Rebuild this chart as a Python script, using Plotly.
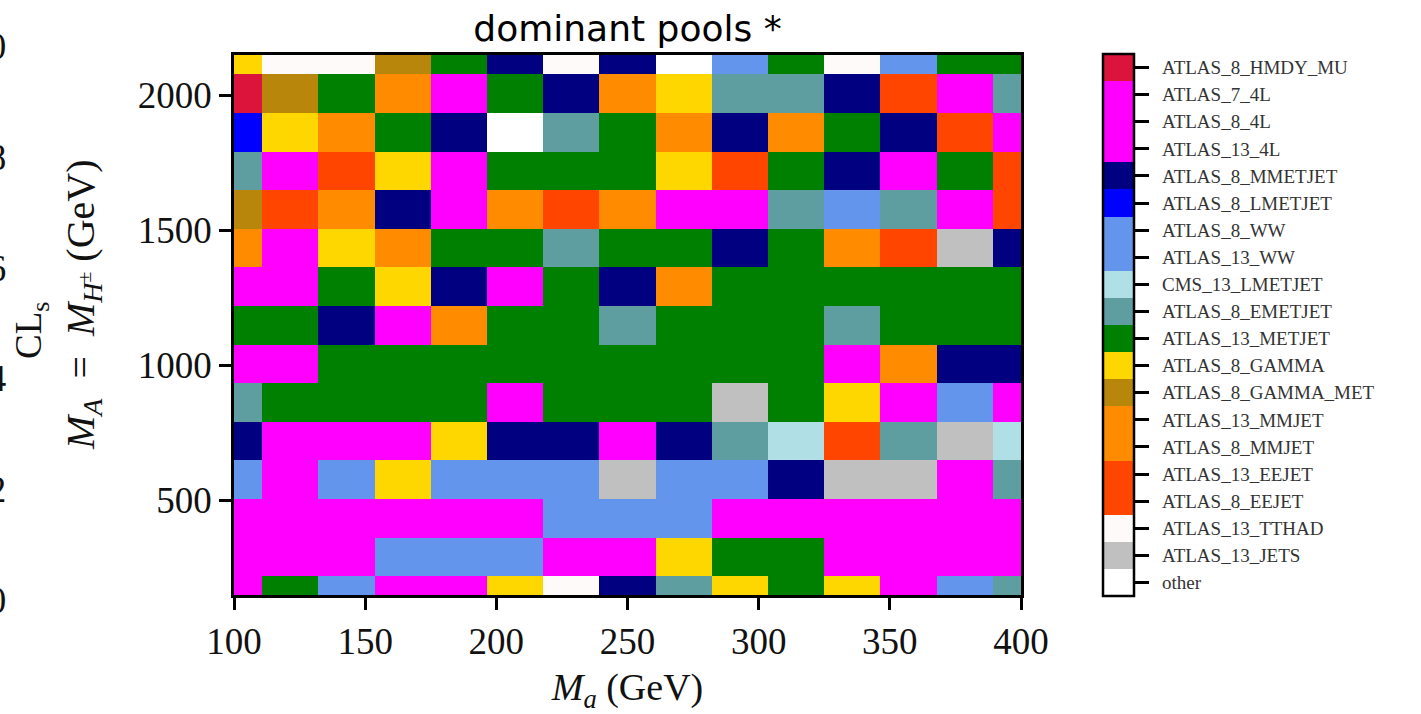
import plotly.graph_objects as go
import numpy as np

# Pool names in colour-bar order (top to bottom)
pools = ["ATLAS_8_HMDY_MU", "ATLAS_7_4L", "ATLAS_8_4L", "ATLAS_13_4L",
         "ATLAS_8_MMETJET", "ATLAS_8_LMETJET", "ATLAS_8_WW", "ATLAS_13_WW",
         "CMS_13_LMETJET", "ATLAS_8_EMETJET", "ATLAS_13_METJET", "ATLAS_8_GAMMA",
         "ATLAS_8_GAMMA_MET", "ATLAS_13_MMJET", "ATLAS_8_MMJET", "ATLAS_13_EEJET",
         "ATLAS_8_EEJET", "ATLAS_13_TTHAD", "ATLAS_13_JETS", "other"]
pool_colors = ["#DC143C", "#FF00FF", "#FF00FF", "#FF00FF",
               "#000080", "#0000FF", "#6495ED", "#6495ED",
               "#B0E0E6", "#5F9EA0", "#008000", "#FFD700",
               "#B8860B", "#FF8C00", "#FF8C00", "#FF4500",
               "#FF4500", "#FFFAFA", "#C0C0C0", "#FFFFFF"]

# grid coordinates
m_a = [100.0, 121.4, 142.9, 164.3, 185.7, 207.1, 228.6, 250.0,
       271.4, 292.9, 314.3, 335.7, 357.1, 378.6, 400.0]
m_A = [150.0, 292.9, 435.7, 578.6, 721.4, 864.3, 1007.1, 1150.0,
       1292.9, 1435.7, 1578.6, 1721.4, 1864.3, 2007.1, 2150.0]

# dominant pool per cell, rows from bottom (m_A=150) to top (m_A=2150)
row_150  = ["ATLAS_13_4L", "ATLAS_13_METJET", "ATLAS_8_WW", "ATLAS_13_4L", "ATLAS_13_4L", "ATLAS_8_GAMMA", "ATLAS_13_TTHAD", "ATLAS_8_MMETJET", "ATLAS_8_EMETJET", "ATLAS_8_GAMMA", "ATLAS_13_METJET", "ATLAS_8_GAMMA", "ATLAS_13_4L", "ATLAS_8_WW", "ATLAS_8_EMETJET"]
row_293  = ["ATLAS_13_4L", "ATLAS_13_4L", "ATLAS_13_4L", "ATLAS_8_WW", "ATLAS_8_WW", "ATLAS_8_WW", "ATLAS_13_4L", "ATLAS_13_4L", "ATLAS_8_GAMMA", "ATLAS_13_METJET", "ATLAS_13_METJET", "ATLAS_13_4L", "ATLAS_13_4L", "ATLAS_13_4L", "ATLAS_13_4L"]
row_436  = ["ATLAS_13_4L", "ATLAS_13_4L", "ATLAS_13_4L", "ATLAS_13_4L", "ATLAS_13_4L", "ATLAS_13_4L", "ATLAS_8_WW", "ATLAS_8_WW", "ATLAS_8_WW", "ATLAS_13_4L", "ATLAS_13_4L", "ATLAS_13_4L", "ATLAS_13_4L", "ATLAS_13_4L", "ATLAS_13_4L"]
row_579  = ["ATLAS_8_WW", "ATLAS_13_4L", "ATLAS_8_WW", "ATLAS_8_GAMMA", "ATLAS_8_WW", "ATLAS_8_WW", "ATLAS_8_WW", "ATLAS_13_JETS", "ATLAS_8_WW", "ATLAS_8_WW", "ATLAS_8_MMETJET", "ATLAS_13_JETS", "ATLAS_13_JETS", "ATLAS_13_4L", "ATLAS_8_EMETJET"]
row_721  = ["ATLAS_8_MMETJET", "ATLAS_13_4L", "ATLAS_13_4L", "ATLAS_13_4L", "ATLAS_8_GAMMA", "ATLAS_8_MMETJET", "ATLAS_8_MMETJET", "ATLAS_13_4L", "ATLAS_8_MMETJET", "ATLAS_8_EMETJET", "CMS_13_LMETJET", "ATLAS_13_EEJET", "ATLAS_8_EMETJET", "ATLAS_13_JETS", "CMS_13_LMETJET"]
row_864  = ["ATLAS_8_EMETJET", "ATLAS_13_METJET", "ATLAS_13_METJET", "ATLAS_13_METJET", "ATLAS_13_METJET", "ATLAS_13_4L", "ATLAS_13_METJET", "ATLAS_13_METJET", "ATLAS_13_METJET", "ATLAS_13_JETS", "ATLAS_13_METJET", "ATLAS_8_GAMMA", "ATLAS_13_4L", "ATLAS_8_WW", "ATLAS_13_4L"]
row_1007 = ["ATLAS_13_4L", "ATLAS_13_4L", "ATLAS_13_METJET", "ATLAS_13_METJET", "ATLAS_13_METJET", "ATLAS_13_METJET", "ATLAS_13_METJET", "ATLAS_13_METJET", "ATLAS_13_METJET", "ATLAS_13_METJET", "ATLAS_13_METJET", "ATLAS_13_4L", "ATLAS_13_MMJET", "ATLAS_8_MMETJET", "ATLAS_8_MMETJET"]
row_1150 = ["ATLAS_13_METJET", "ATLAS_13_METJET", "ATLAS_8_MMETJET", "ATLAS_13_4L", "ATLAS_13_MMJET", "ATLAS_13_METJET", "ATLAS_13_METJET", "ATLAS_8_EMETJET", "ATLAS_13_METJET", "ATLAS_13_METJET", "ATLAS_13_METJET", "ATLAS_8_EMETJET", "ATLAS_13_METJET", "ATLAS_13_METJET", "ATLAS_13_METJET"]
row_1293 = ["ATLAS_13_4L", "ATLAS_13_4L", "ATLAS_13_METJET", "ATLAS_8_GAMMA", "ATLAS_8_MMETJET", "ATLAS_13_4L", "ATLAS_13_METJET", "ATLAS_8_MMETJET", "ATLAS_13_MMJET", "ATLAS_13_METJET", "ATLAS_13_METJET", "ATLAS_13_METJET", "ATLAS_13_METJET", "ATLAS_13_METJET", "ATLAS_13_METJET"]
row_1436 = ["ATLAS_13_MMJET", "ATLAS_13_4L", "ATLAS_8_GAMMA", "ATLAS_13_MMJET", "ATLAS_13_METJET", "ATLAS_13_METJET", "ATLAS_8_EMETJET", "ATLAS_13_METJET", "ATLAS_13_METJET", "ATLAS_8_MMETJET", "ATLAS_13_METJET", "ATLAS_13_MMJET", "ATLAS_13_EEJET", "ATLAS_13_JETS", "ATLAS_8_MMETJET"]
row_1579 = ["ATLAS_8_GAMMA_MET", "ATLAS_13_EEJET", "ATLAS_13_MMJET", "ATLAS_8_MMETJET", "ATLAS_13_4L", "ATLAS_13_MMJET", "ATLAS_13_EEJET", "ATLAS_13_MMJET", "ATLAS_13_4L", "ATLAS_13_4L", "ATLAS_8_EMETJET", "ATLAS_8_WW", "ATLAS_8_EMETJET", "ATLAS_13_4L", "ATLAS_13_EEJET"]
row_1721 = ["ATLAS_8_EMETJET", "ATLAS_13_4L", "ATLAS_13_EEJET", "ATLAS_8_GAMMA", "ATLAS_13_4L", "ATLAS_13_METJET", "ATLAS_13_METJET", "ATLAS_13_METJET", "ATLAS_8_GAMMA", "ATLAS_13_EEJET", "ATLAS_13_METJET", "ATLAS_8_MMETJET", "ATLAS_13_4L", "ATLAS_13_METJET", "ATLAS_13_EEJET"]
row_1864 = ["ATLAS_8_LMETJET", "ATLAS_8_GAMMA", "ATLAS_13_MMJET", "ATLAS_13_METJET", "ATLAS_8_MMETJET", "other", "ATLAS_8_EMETJET", "ATLAS_13_METJET", "ATLAS_13_MMJET", "ATLAS_8_MMETJET", "ATLAS_13_MMJET", "ATLAS_13_METJET", "ATLAS_8_MMETJET", "ATLAS_13_EEJET", "ATLAS_13_4L"]
row_2007 = ["ATLAS_8_HMDY_MU", "ATLAS_8_GAMMA_MET", "ATLAS_13_METJET", "ATLAS_13_MMJET", "ATLAS_13_4L", "ATLAS_13_METJET", "ATLAS_8_MMETJET", "ATLAS_13_MMJET", "ATLAS_8_GAMMA", "ATLAS_8_EMETJET", "ATLAS_8_EMETJET", "ATLAS_8_MMETJET", "ATLAS_13_EEJET", "ATLAS_13_4L", "ATLAS_8_EMETJET"]
row_2150 = ["ATLAS_8_GAMMA", "ATLAS_13_TTHAD", "ATLAS_13_TTHAD", "ATLAS_8_GAMMA_MET", "ATLAS_13_METJET", "ATLAS_8_MMETJET", "ATLAS_13_TTHAD", "ATLAS_8_MMETJET", "other", "ATLAS_8_WW", "ATLAS_13_METJET", "ATLAS_13_TTHAD", "ATLAS_8_WW", "ATLAS_13_METJET", "ATLAS_13_METJET"]

grid = [row_150, row_293, row_436, row_579, row_721, row_864, row_1007, row_1150,
        row_1293, row_1436, row_1579, row_1721, row_1864, row_2007, row_2150]

x_ticks = [100, 150, 200, 250, 300, 350, 400]
y_ticks = [500, 1000, 1500, 2000]
cls_ticks = ["0.0", "0.2", "0.4", "0.6", "0.8", "1.0"]

n = len(pools)
# value: position from bottom of the colour bar
val = {p: n - 1 - i for i, p in enumerate(pools)}
z = [[val[p] for p in row] for row in grid]

colorscale = []
for k in range(n):
    c = pool_colors[n - 1 - k]
    colorscale.append([k / n, c])
    colorscale.append([(k + 1) / n, c])

SERIF = "Liberation Serif"
L, R, T, B = 234, 400, 55, 119
PW = 1421 - L - R
PH = 714 - T - B

fig = go.Figure(go.Heatmap(
    x=m_a, y=m_A, z=z, zmin=-0.5, zmax=n - 0.5,
    colorscale=colorscale,
    colorbar=dict(
        x=(1103 - L) / PW, xanchor="left", xpad=0,
        y=0.5, yanchor="middle", ypad=0,
        lenmode="pixels", len=542, thickness=31,
        outlinecolor="black", outlinewidth=2.5,
        tickvals=[val[p] for p in pools],
        ticktext=["\u00a0\u00a0" + p for p in pools],
        ticks="outside", ticklen=14, tickwidth=2.5, tickcolor="black",
        tickfont=dict(family=SERIF, size=19, color="#333333"),
    ),
    hovertemplate="%{x}, %{y}<extra></extra>",
))

axis_common = dict(showline=True, linecolor="black", linewidth=2.5, mirror=True,
                   ticks="outside", ticklen=12, tickwidth=2.5, tickcolor="black",
                   showgrid=False, zeroline=False,
                   tickfont=dict(family=SERIF, size=37, color="#111111"))

fig.update_xaxes(range=[100, 400], tickvals=x_ticks, ticktext=[str(v) for v in x_ticks],
                 title=dict(text="<i>M</i><sub><i>a</i></sub> (GeV)",
                            font=dict(family=SERIF, size=38, color="#111111"), standoff=14),
                 **axis_common)
fig.update_yaxes(range=[150, 2150], tickvals=y_ticks, ticktext=[str(v) for v in y_ticks],
                 **axis_common)

annotations = []
# y-axis title placed explicitly
annotations.append(dict(xref="paper", yref="paper", x=(83 - L) / PW, y=(595 - 305) / PH,
                        xanchor="center", yanchor="middle", textangle=-90, showarrow=False,
                        text="<i>M</i><sub><i>A</i></sub>\u2002=\u2002<i>M</i><sub><i>H</i><sup>±</sup></sub> (GeV)",
                        font=dict(family=SERIF, size=40, color="#111111")))
# clipped remnant of a neighbouring CLs colour bar at the far left
for i, t in enumerate(cls_ticks):
    py = 600 - i * 110.6
    annotations.append(dict(xref="paper", yref="paper", x=(8 - L) / PW, y=(595 - py) / PH,
                            xanchor="right", yanchor="middle", text=t, showarrow=False,
                            font=dict(family=SERIF, size=37, color="#111111")))
annotations.append(dict(xref="paper", yref="paper", x=(31 - L) / PW, y=(595 - 330) / PH,
                        xanchor="center", yanchor="middle", text="CL<sub>s</sub>", textangle=-90,
                        showarrow=False, font=dict(family=SERIF, size=37, color="#111111")))

fig.update_layout(
    width=1421, height=714,
    margin=dict(l=L, r=R, t=T, b=B),
    plot_bgcolor="white", paper_bgcolor="white",
    title=dict(text="dominant pools *", x=0.5, xref="paper", xanchor="center",
               y=1 - 28 / 714, yref="container", yanchor="middle",
               font=dict(family="DejaVu Sans", size=36, color="black")),
    annotations=annotations,
)

fig.write_html("out.html")
